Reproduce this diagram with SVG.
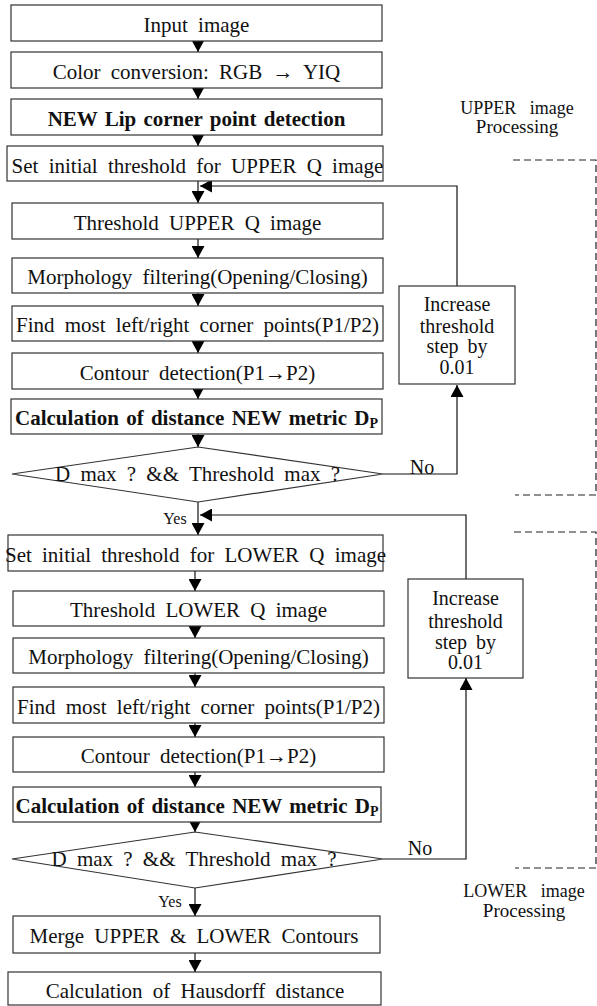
<svg xmlns="http://www.w3.org/2000/svg" width="597" height="1006" viewBox="0 0 597 1006" font-family="Liberation Serif, Tinos, DejaVu Serif, serif">
<defs>
<style>
.box{fill:#fff;stroke:#333;stroke-width:1.2}
.t{font-family:'Liberation Serif',Tinos,'DejaVu Serif',serif;font-size:21px;fill:#111;text-anchor:middle;word-spacing:5px}
.b{font-weight:bold;word-spacing:2px}
.s{font-family:'Liberation Serif',Tinos,'DejaVu Serif',serif;font-size:20px;fill:#111;text-anchor:middle}
.c{fill:none;stroke:#111;stroke-width:1.2}
.d{fill:none;stroke:#222;stroke-width:1.2;stroke-dasharray:7,4}
</style>
<marker id="ah" viewBox="0 0 12 13" refX="12" refY="6.5" markerWidth="12" markerHeight="13" markerUnits="userSpaceOnUse" orient="auto">
<path d="M0,0 L12,6.5 L0,13 Z" fill="#000"/>
</marker>
</defs>
<rect width="597" height="1006" fill="#fff"/>

<g id="connectors">
<line class="c" x1="198" y1="41" x2="198" y2="52" marker-end="url(#ah)"/>
<line class="c" x1="198" y1="88" x2="198" y2="99" marker-end="url(#ah)"/>
<line class="c" x1="198" y1="135" x2="198" y2="146" marker-end="url(#ah)"/>
<line class="c" x1="198" y1="181" x2="198" y2="203" marker-end="url(#ah)"/>
<line class="c" x1="198" y1="239" x2="198" y2="258" marker-end="url(#ah)"/>
<line class="c" x1="198" y1="293" x2="198" y2="306" marker-end="url(#ah)"/>
<line class="c" x1="198" y1="341" x2="198" y2="353" marker-end="url(#ah)"/>
<line class="c" x1="198" y1="389" x2="198" y2="399" marker-end="url(#ah)"/>
<line class="c" x1="198" y1="434" x2="198" y2="447" marker-end="url(#ah)"/>
<path class="c" d="M457,286 V186 H200" marker-end="url(#ah)"/>
<path class="c" d="M383,474 H457 V385" marker-end="url(#ah)"/>
<line class="c" x1="198" y1="502" x2="198" y2="535" marker-end="url(#ah)"/>
<path class="c" d="M466,579 V515 H200" marker-end="url(#ah)"/>
<line class="c" x1="195" y1="571" x2="195" y2="591" marker-end="url(#ah)"/>
<line class="c" x1="195" y1="626" x2="195" y2="638" marker-end="url(#ah)"/>
<line class="c" x1="195" y1="673" x2="195" y2="687" marker-end="url(#ah)"/>
<line class="c" x1="195" y1="723" x2="195" y2="737" marker-end="url(#ah)"/>
<line class="c" x1="195" y1="772" x2="195" y2="787" marker-end="url(#ah)"/>
<line class="c" x1="195" y1="822" x2="195" y2="832" marker-end="url(#ah)"/>
<path class="c" d="M383,859 H466 V678" marker-end="url(#ah)"/>
<line class="c" x1="195" y1="888" x2="195" y2="916" marker-end="url(#ah)"/>
<line class="c" x1="195" y1="953" x2="195" y2="972" marker-end="url(#ah)"/>
<text class="s" x="422" y="474">No</text>
<text class="s" x="420" y="855">No</text>
<text class="s" x="175" y="524" style="font-size:16px">Yes</text>
<text class="s" x="170" y="907" style="font-size:16px">Yes</text>
</g>

<g id="regions">
<path class="d" d="M513,160 H596 V495 H515"/>
<path class="d" d="M514,532 H596 V868 H515"/>
<text class="s" x="517" y="114" style="font-size:18px;word-spacing:9px">UPPER image</text>
<text class="s" x="517" y="133" style="font-size:19px">Processing</text>
<text class="s" x="524" y="897" style="font-size:18px;word-spacing:9px">LOWER image</text>
<text class="s" x="524" y="917" style="font-size:19px">Processing</text>
</g>

<g id="n1"><rect class="box" x="11" y="5" width="371" height="36"/><text class="t" x="196.5" y="31.5">Input image</text></g>
<g id="n2"><rect class="box" x="11" y="52" width="371" height="36"/><text class="t" x="196.5" y="78.5">Color conversion: RGB → YIQ</text></g>
<g id="n3"><rect class="box" x="11" y="99" width="371" height="36"/><text class="t b" x="196.5" y="125.5">NEW Lip corner point detection</text></g>
<g id="n4"><rect class="box" x="7" y="146" width="376" height="35"/><text class="t" x="197.5" y="172.5">Set initial threshold for UPPER Q image</text></g>
<g id="n5"><rect class="box" x="12" y="203" width="371" height="36"/><text class="t" x="197.5" y="229.5">Threshold UPPER Q image</text></g>
<g id="n6"><rect class="box" x="12" y="258" width="371" height="35"/><text class="t" x="197.5" y="284">Morphology filtering(Opening/Closing)</text></g>
<g id="n7"><rect class="box" x="12" y="306" width="371" height="35"/><text class="t" x="197.5" y="332">Find most left/right corner points(P1/P2)</text></g>
<g id="n8"><rect class="box" x="12" y="353" width="371" height="36"/><text class="t" x="197.5" y="379.5">Contour detection(P1→P2)</text></g>
<g id="n9"><rect class="box" x="11" y="399" width="371" height="35"/><text class="t b" x="196.5" y="425">Calculation of distance NEW metric D<tspan font-size="14" dy="3">P</tspan></text></g>
<g id="n10"><polygon class="box" points="198,447 383,474 198,502 12,474"/><text class="t" x="197.5" y="481">D max ? &amp;&amp; Threshold max ?</text></g>
<g id="n11"><rect class="box" x="399" y="286" width="116" height="98"/>
<text class="s" x="457" y="311">Increase</text><text class="s" x="457" y="333">threshold</text><text class="s" x="457" y="353" style="word-spacing:4px">step by</text><text class="s" x="457" y="374">0.01</text></g>

<g id="n12"><rect class="box" x="8" y="535" width="375" height="36"/><text class="t" x="195.5" y="561.5">Set initial threshold for LOWER Q image</text></g>
<g id="n13"><rect class="box" x="13" y="591" width="371" height="35"/><text class="t" x="198.5" y="617">Threshold LOWER Q image</text></g>
<g id="n14"><rect class="box" x="13" y="638" width="371" height="35"/><text class="t" x="198.5" y="664">Morphology filtering(Opening/Closing)</text></g>
<g id="n15"><rect class="box" x="13" y="687" width="371" height="36"/><text class="t" x="198.5" y="713.5">Find most left/right corner points(P1/P2)</text></g>
<g id="n16"><rect class="box" x="13" y="737" width="371" height="35"/><text class="t" x="198.5" y="763">Contour detection(P1→P2)</text></g>
<g id="n17"><rect class="box" x="13" y="787" width="368" height="35"/><text class="t b" x="197" y="813">Calculation of distance NEW metric D<tspan font-size="14" dy="3">P</tspan></text></g>
<g id="n18"><polygon class="box" points="195,832 383,859 195,888 12,859"/><text class="t" x="194" y="866">D max ? &amp;&amp; Threshold max ?</text></g>
<g id="n19"><rect class="box" x="408" y="579" width="115" height="99"/>
<text class="s" x="465.5" y="605">Increase</text><text class="s" x="465.5" y="628">threshold</text><text class="s" x="465.5" y="649" style="word-spacing:4px">step by</text><text class="s" x="465.5" y="669">0.01</text></g>
<g id="n20"><rect class="box" x="13" y="916" width="367" height="37"/><text class="t" x="194" y="943">Merge UPPER &amp; LOWER Contours</text></g>
<g id="n21"><rect class="box" x="8" y="972" width="373" height="33"/><text class="t" x="195" y="998">Calculation of Hausdorff distance</text></g>
</svg>
